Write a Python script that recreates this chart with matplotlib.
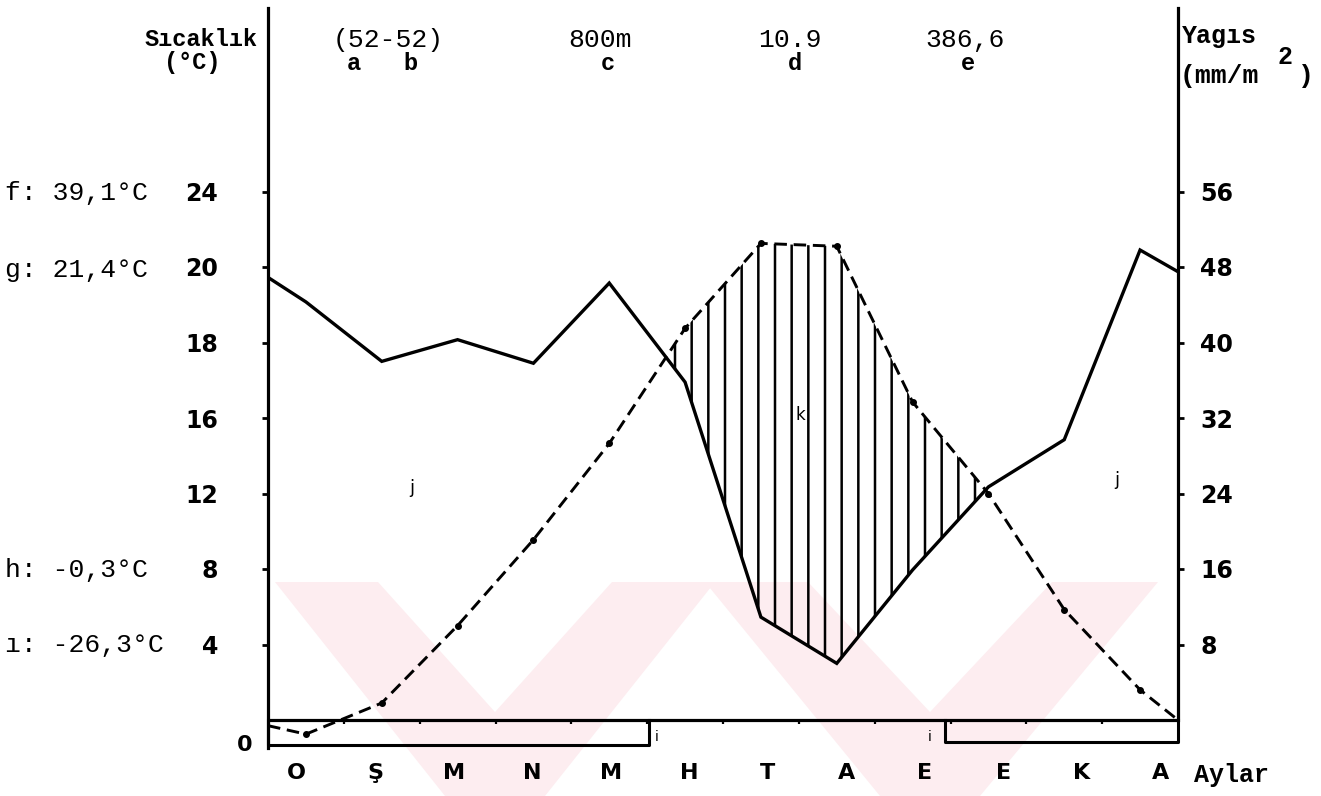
import matplotlib
matplotlib.use('Agg')
import matplotlib.pyplot as plt
from matplotlib.patches import Polygon

# ---------------- data ----------------
months = ['O', 'Ş', 'M', 'N', 'M', 'H', 'T', 'A', 'E', 'E', 'K', 'A']
# x positions: left axis edge, month centres, right axis edge
x_pts = [0.0, 0.5, 1.5, 2.5, 3.5, 4.5, 5.5, 6.5, 7.5, 8.5, 9.5, 10.5, 11.5, 12.0]
# precipitation curve (solid), in right-axis units (mm)
precip = [46.9, 44.3, 38.0, 40.3, 37.8, 46.3, 35.8, 10.9, 6.0, 15.9, 24.7, 29.7, 49.8, 47.5]
# temperature curve (dashed), drawn on the same scale
temp = [-0.6, -1.5, 1.8, 10.0, 19.1, 29.3, 41.5, 50.5, 50.2, 33.7, 24.0, 11.7, 3.2, 0.0]
tick_vals = [8, 16, 24, 32, 40, 48, 56]
left_labels = ['4', '8', '12', '16', '18', '20', '24']
right_labels = ['8', '16', '24', '32', '40', '48', '56']
frost_spans = [(0.0, 5.03), (8.93, 12.0)]
header_top = ['(52-52)', '800m', '10.9', '386,6']
header_letters = ['a', 'b', 'c', 'd', 'e']
side_notes = ['f: 39,1°C', 'g: 21,4°C', 'h: -0,3°C', 'ı: -26,3°C']

# ---------------- layout ----------------
W, H = 1321, 796
fig = plt.figure(figsize=(W / 100, H / 100), dpi=100)
fig.patch.set_facecolor('white')

def fx(px):
    return px / W

def fy(py):
    return 1 - py / H

# watermark (pale pink chevrons in the scan)
pink = '#fdedf0'
wm = [
    [(275, 582), (378, 582), (495, 712), (612, 582), (715, 582), (545, 796), (445, 796)],
    [(705, 582), (808, 582), (930, 712), (1052, 582), (1158, 582), (980, 796), (880, 796)],
]
for poly in wm:
    fig.add_artist(Polygon([(fx(a), fy(b)) for a, b in poly], closed=True,
                           transform=fig.transFigure, facecolor=pink,
                           edgecolor='none', zorder=-5))

x0, x1 = 268, 1178
ytop, ybot, ybase = 8, 748, 720
ppu = 75.5 / 8.0
ax = fig.add_axes([fx(x0), fy(ybot), (x1 - x0) / W, (ybot - ytop) / H])
ax.patch.set_alpha(0)
ymin = (ybase - ybot) / ppu
ymax = (ybase - ytop) / ppu
ax.set_xlim(0, 12)
ax.set_ylim(ymin, ymax)

for s in ['top', 'bottom', 'right']:
    ax.spines[s].set_visible(False)
ax.spines['left'].set_linewidth(2.3)

num_font = dict(family='DejaVu Sans', weight='bold', size=17)
ax.set_yticks(tick_vals)
ax.set_yticklabels(left_labels, fontdict=num_font)
ax.tick_params(axis='y', direction='out', length=4, width=2, pad=32)

ax2 = ax.twinx()
ax2.set_ylim(ymin, ymax)
ax2.patch.set_alpha(0)
for s in ['top', 'bottom', 'left']:
    ax2.spines[s].set_visible(False)
ax2.spines['right'].set_bounds(0, ymax)
ax2.spines['right'].set_linewidth(2.3)
ax2.set_yticks(tick_vals)
ax2.set_yticklabels(right_labels, fontdict=num_font)
ax2.tick_params(axis='y', direction='out', length=4, width=2, pad=12)

label_pos = [0.38 + i * 1.035 for i in range(12)]
ax.set_xticks(label_pos)
ax.set_xticklabels(months, fontdict=dict(family='DejaVu Sans', weight='bold', size=16))
ax.tick_params(axis='x', length=0, pad=11)

# baseline, month nubs and frost boxes
ax.plot([0, 12], [0, 0], color='black', lw=2.3, solid_capstyle='butt', zorder=3)
ax.vlines(range(1, 12), -0.45, 0, color='black', lw=1.6, zorder=3)
box_depth = [2.65, 2.35]
for (a, b), d in zip(frost_spans, box_depth):
    ax.plot([a, a, b, b], [0, -d, -d, 0], color='black', lw=2.2, clip_on=False, zorder=3)

# hatched arid period
plt.rcParams['hatch.linewidth'] = 1.8
ax.fill_between(x_pts, precip, temp, where=[t > p for t, p in zip(temp, precip)],
                interpolate=True, facecolor='none', edgecolor='black', hatch='|',
                linewidth=0, zorder=2)

ax.plot(x_pts, precip, color='black', lw=2.4, zorder=4, solid_joinstyle='miter')
ax.plot(x_pts, temp, color='black', lw=2.1, linestyle=(0, (4.3, 2.3)), zorder=4)
ax.plot(x_pts[1:-1], temp[1:-1], 'o', color='black', ms=4, zorder=5)

# ---------------- texts ----------------
mono = 'Liberation Mono'
fig.text(fx(258), fy(40), 'Sıcaklık', family=mono, weight='bold', size=17,
         ha='right', va='center')
fig.text(fx(192), fy(62), '(°C)', family=mono, weight='bold', size=17,
         ha='center', va='center')
for txt, px in zip(header_top, [388, 600, 790, 965]):
    fig.text(fx(px), fy(40), txt, family=mono, size=19, ha='center', va='center')
for txt, px in zip(header_letters, [354, 410, 608, 795, 968]):
    fig.text(fx(px), fy(63), txt, family=mono, weight='bold', size=17,
             ha='center', va='center')
fig.text(fx(1182), fy(36), 'Yagıs', family=mono, weight='bold', size=18,
         ha='left', va='center')
fig.text(fx(1180), fy(76), '(mm/m', family=mono, weight='bold', size=19,
         ha='left', va='center')
fig.text(fx(1285), fy(57), '2', family=mono, weight='bold', size=18,
         ha='center', va='center')
fig.text(fx(1298), fy(76), ')', family=mono, weight='bold', size=19,
         ha='left', va='center')

for txt, py in zip(side_notes, [193, 270, 570, 645]):
    fig.text(fx(5), fy(py), txt, family=mono, size=19, ha='left', va='center')

fig.text(fx(245), fy(745), '0', family='DejaVu Sans', weight='bold', size=16,
         ha='center', va='center')
fig.text(fx(1232), fy(775), 'Aylar', family=mono, weight='bold', size=18,
         ha='center', va='center')
fig.text(fx(800), fy(415), 'k', family='DejaVu Sans', size=12, ha='center', va='center')
fig.text(fx(412), fy(488), 'j', family='DejaVu Sans', size=13, ha='center', va='center')
fig.text(fx(1117), fy(480), 'j', family='DejaVu Sans', size=13, ha='center', va='center')
fig.text(fx(657), fy(737), 'i', family='DejaVu Sans', size=10, ha='center', va='center')
fig.text(fx(930), fy(737), 'i', family='DejaVu Sans', size=10, ha='center', va='center')

fig.savefig('out.png', dpi=100, facecolor='white')
